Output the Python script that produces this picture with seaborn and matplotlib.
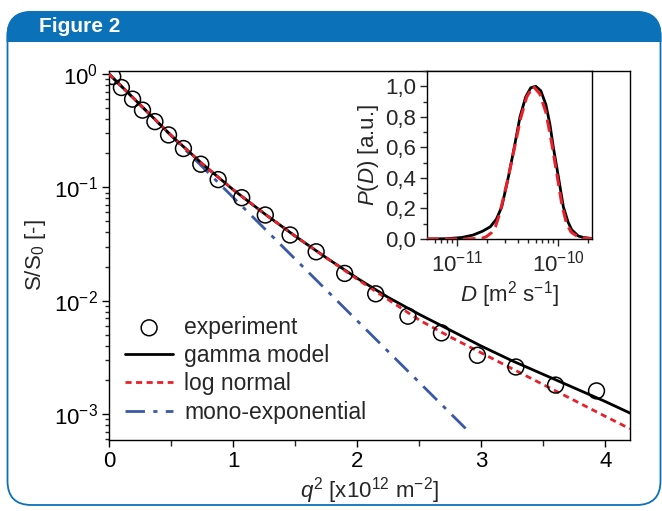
import numpy as np
import pandas as pd
import matplotlib
matplotlib.use("Agg")
import matplotlib.pyplot as plt
import seaborn as sns
from matplotlib.patches import FancyBboxPatch, Rectangle
from matplotlib.ticker import MultipleLocator, NullFormatter, LogLocator

# experimental points, main panel
q2_exp = [0.03, 0.10, 0.19, 0.27, 0.37, 0.48, 0.60, 0.74, 0.88, 1.07, 1.26, 1.46,
          1.67, 1.90, 2.15, 2.41, 2.68, 2.97, 3.28, 3.60, 3.93]
s_exp = [0.95, 0.76, 0.60, 0.48, 0.38, 0.29, 0.22, 0.16, 0.117, 0.081, 0.057, 0.038,
         0.027, 0.0174, 0.0115, 0.0073, 0.0052, 0.0033, 0.0026, 0.0018, 0.0016]

# model curves
q2_fit = [0, 0.25, 0.5, 0.75, 1.0, 1.25, 1.5, 1.75, 2.0, 2.25, 2.5, 2.75, 3.0,
          3.25, 3.5, 3.75, 4.0, 4.2]
s_gamma = [1.0, 0.537, 0.288, 0.162, 0.0955, 0.0589, 0.0372, 0.0240, 0.0158, 0.0107,
           0.00759, 0.00550, 0.00398, 0.00295, 0.00224, 0.00170, 0.00129, 0.00102]
s_lognorm = [1.0, 0.537, 0.288, 0.162, 0.0955, 0.0589, 0.0372, 0.0240, 0.0155, 0.01023,
             0.00676, 0.00479, 0.00347, 0.00251, 0.00182, 0.00132, 0.000955, 0.000741]
q2_mono = [0.0, 2.9]
s_mono = [1.0, 0.0007]

# inset: distributions of D
d_gamma = [5.01e-12, 7.94e-12, 1.122e-11, 1.445e-11, 1.778e-11, 2.138e-11, 2.455e-11,
           2.773e-11, 3.236e-11, 3.69e-11, 4.207e-11, 4.786e-11, 5.37e-11, 6.026e-11,
           6.761e-11, 7.586e-11, 8.318e-11, 8.995e-11, 1.007e-10, 1.130e-10, 1.259e-10,
           1.368e-10, 1.585e-10, 1.778e-10, 2.239e-10]
p_gamma = [0.0, 0.002, 0.010, 0.026, 0.05, 0.08, 0.13, 0.21, 0.41, 0.60, 0.80, 0.93,
           0.99, 1.00, 0.97, 0.88, 0.75, 0.60, 0.41, 0.21, 0.11, 0.06, 0.02, 0.01, 0.002]
d_lognorm = [5.01e-12, 1.259e-11, 1.778e-11, 1.950e-11, 2.188e-11, 2.399e-11, 2.630e-11,
             2.884e-11, 3.236e-11, 3.715e-11, 4.266e-11, 4.898e-11, 5.689e-11, 6.607e-11,
             7.586e-11, 8.710e-11, 9.772e-11, 1.096e-10, 1.216e-10, 1.349e-10, 1.531e-10,
             1.778e-10, 2.089e-10, 2.239e-10]
p_lognorm = [0.0, 0.0, 0.005, 0.015, 0.04, 0.08, 0.16, 0.27, 0.41, 0.60, 0.79, 0.93,
             1.00, 0.95, 0.83, 0.62, 0.42, 0.22, 0.10, 0.045, 0.02, 0.006, 0.002, 0.0]

inset_yticks = [0.0, 0.2, 0.4, 0.6, 0.8, 1.0]
inset_ylabels = ["0,0", "0,2", "0,4", "0,6", "0,8", "1,0"]

sns.set_theme(style="ticks")
plt.rcParams["font.family"] = ["Liberation Sans", "DejaVu Sans"]
plt.rcParams["mathtext.fontset"] = "custom"
plt.rcParams["mathtext.rm"] = "Liberation Sans"
plt.rcParams["mathtext.it"] = "Liberation Sans:italic"
plt.rcParams["axes.linewidth"] = 1.0
plt.rcParams["axes.edgecolor"] = "black"

W, H = 662, 511
fig = plt.figure(figsize=(W / 100, H / 100), dpi=100)

blue = "#0b72b9"
# panel frame with rounded corners and header band
panel = FancyBboxPatch((0.075, 0.06), 6.53, 4.93, boxstyle="round,pad=0,rounding_size=0.24",
                       transform=fig.dpi_scale_trans, facecolor="white", edgecolor=blue,
                       linewidth=1.3, zorder=-3)
fig.patches.append(panel)
band = FancyBboxPatch((0.075, 4.0), 6.53, 0.99, boxstyle="round,pad=0,rounding_size=0.24",
                      transform=fig.dpi_scale_trans, facecolor=blue, edgecolor=blue,
                      linewidth=1.3, zorder=-2)
clip = Rectangle((0.0, 4.69), 6.62, 0.40, transform=fig.dpi_scale_trans)
band.set_clip_path(clip)
fig.patches.append(band)
fig.text(39 / W, 1 - 26 / H, "Figure 2", color="white", fontsize=15, fontweight="bold",
         va="center", ha="left")

# main axes
ax = fig.add_axes([109 / W, 1 - 440 / H, (630 - 109) / W, (440 - 71) / H])
ax.set_zorder(2)
sns.scatterplot(x=q2_exp, y=s_exp, ax=ax, s=130, marker="o", color="black",
                linewidth=1.1, label="experiment", zorder=5)
pts = ax.collections[-1]
pts.set_facecolor("none")
pts.set_edgecolor("black")
sns.lineplot(x=q2_fit, y=s_gamma, ax=ax, color="black", linewidth=2.0,
             label="gamma model", zorder=3)
sns.lineplot(x=q2_fit, y=s_lognorm, ax=ax, color="#e8202a", linewidth=2.0,
             linestyle=(0, (2.2, 1.6)), label="log normal", zorder=4)
sns.lineplot(x=q2_mono, y=s_mono, ax=ax, color="#3a58a8", linewidth=2.0,
             linestyle=(0, (7, 3, 1.5, 3)), label="mono-exponential", zorder=2)
ax.set_yscale("log")
ax.set_xlim(0, 4.2)
ax.set_ylim(5.9e-4, 1.063)
ax.xaxis.set_major_locator(MultipleLocator(1))
ax.xaxis.set_minor_locator(MultipleLocator(0.5))
ax.yaxis.set_minor_formatter(NullFormatter())
ax.tick_params(which="major", direction="out", length=5, width=1.0, labelsize=16,
               pad=3, colors="black")
ax.tick_params(which="minor", direction="out", length=3, width=1.0)
ax.tick_params(axis="x", which="minor", length=4.5)
ax.set_xlabel("$q^2$ [x10$^{12}$ m$^{-2}$]", fontsize=16, labelpad=2)
ax.set_ylabel("S/S$_0$ [-]", fontsize=16, labelpad=4)
ax.legend(loc="upper left", bbox_to_anchor=(0.0, 0.38), frameon=False, fontsize=16.5,
          handlelength=2.1, handletextpad=0.48, labelspacing=0.23, borderaxespad=0.3)

# inset
axi = fig.add_axes([427 / W, 1 - 239 / H, (592 - 427) / W, (239 - 71) / H])
axi.set_zorder(3)
sns.lineplot(x=d_gamma, y=p_gamma, ax=axi, color="black", linewidth=2.0, zorder=3)
sns.lineplot(x=d_lognorm, y=p_lognorm, ax=axi, color="#e8202a", linewidth=2.2,
             linestyle=(0, (4, 2)), zorder=4)
axi.set_xscale("log")
axi.set_xlim(5.05e-12, 2.17e-10)
axi.set_ylim(0, 1.1)
axi.set_yticks(inset_yticks, inset_ylabels)
axi.yaxis.set_minor_locator(MultipleLocator(0.1))
axi.xaxis.set_minor_locator(LogLocator(base=10, subs=np.arange(2, 10)))
axi.xaxis.set_minor_formatter(NullFormatter())
axi.tick_params(which="major", direction="out", length=5, width=1.0, labelsize=16, pad=3)
axi.tick_params(which="minor", direction="out", length=3, width=1.0)
axi.set_xlabel("$D$ [m$^2$ s$^{-1}$]", fontsize=16, labelpad=2)
axi.set_ylabel("$P$($D$) [a.u.]", fontsize=16, labelpad=3)

fig.savefig("out.png", dpi=100)
